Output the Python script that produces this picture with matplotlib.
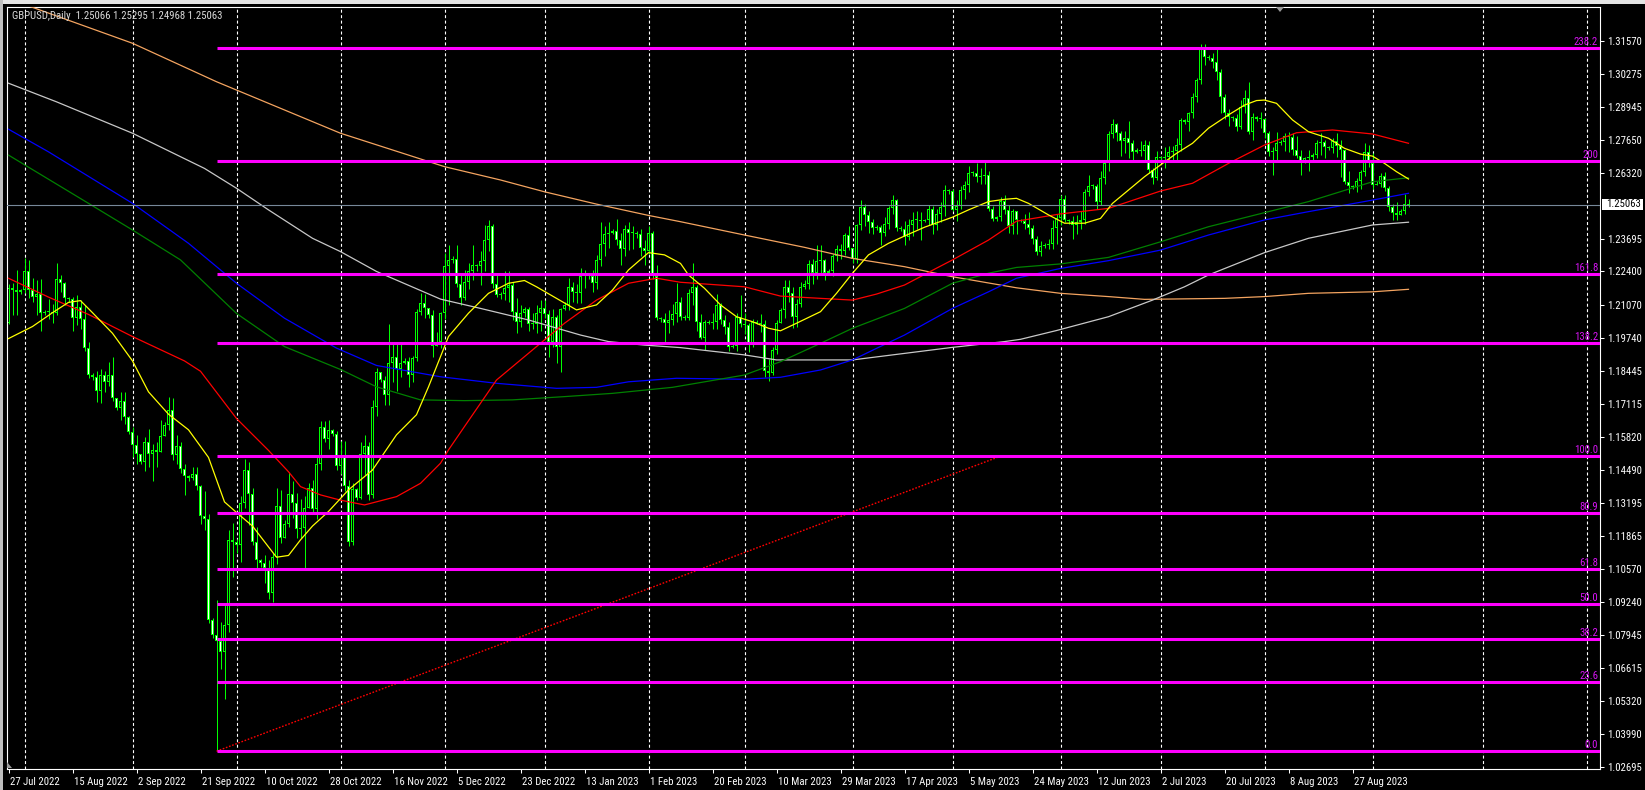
import os
import numpy as np
import matplotlib
matplotlib.use("Agg")
import matplotlib.pyplot as plt
from matplotlib import font_manager as fm
from matplotlib.patches import Rectangle, Polygon
from matplotlib.transforms import ScaledTranslation, blended_transform_factory

W, H = 1645, 790

# daily bars (broker with sunday bars), 27 Jul 2022 .. 12 Sep 2023
first_open = 1.2035
closes = [
    1.2175, 1.2165, 1.2160,
    1.2165, 1.2240, 1.2165, 1.2140, 1.2150, 1.2075,
    1.2078, 1.2080, 1.2075, 1.2210, 1.2195, 1.2135,
    1.2130, 1.2055, 1.2100, 1.2050, 1.1935, 1.1830,
    1.1820, 1.1765, 1.1830, 1.1800, 1.1830, 1.1735,
    1.1695, 1.1725, 1.1660, 1.1600, 1.1550, 1.1515,
    1.1480, 1.1560, 1.1515, 1.1530, 1.1520, 1.1585,
    1.1630, 1.1690, 1.1508, 1.1545, 1.1455, 1.1425,
    1.1420, 1.1435, 1.1385, 1.1265, 1.1255, 1.0855,
    1.0793, 1.0768, 1.0727, 1.0833, 1.1170, 1.1165,
    1.1150, 1.1320, 1.1450, 1.1355, 1.1165, 1.1092,
    1.1080, 1.1060, 1.0960, 1.1105, 1.1305, 1.1180,
    1.1235, 1.1355, 1.1320, 1.1215, 1.1220, 1.1300,
    1.1380, 1.1295, 1.1475, 1.1620, 1.1575, 1.1610,
    1.1595, 1.1465, 1.1505, 1.1385, 1.1165, 1.1375,
    1.1340, 1.1515, 1.1545, 1.1350, 1.1700, 1.1840,
    1.1810, 1.1750, 1.1875, 1.1900, 1.1850, 1.1875,
    1.1885, 1.1830, 1.1895, 1.2080, 1.2113, 1.2093,
    1.2065, 1.1945, 1.1960, 1.2075, 1.2260, 1.2285,
    1.2290, 1.2190, 1.2133, 1.2200, 1.2240, 1.2265,
    1.2260, 1.2280, 1.2365, 1.2420, 1.2190, 1.2145,
    1.2150, 1.2175, 1.2185, 1.2080, 1.2040, 1.2075,
    1.2090, 1.2030, 1.2030, 1.2075, 1.2095,
    1.2070, 1.1960, 1.2060, 1.1940, 1.2090,
    1.2105, 1.2180, 1.2160, 1.2155, 1.2220, 1.2230,
    1.2220, 1.2195, 1.2285, 1.2350, 1.2390, 1.2395,
    1.2400, 1.2365, 1.2330, 1.2410, 1.2395, 1.2395,
    1.2390, 1.2335, 1.2320, 1.2395, 1.2220, 1.2055,
    1.2050, 1.2035, 1.2045, 1.2070, 1.2120, 1.2060,
    1.2055, 1.2155, 1.2180, 1.2040, 1.1975, 1.2040,
    1.2035, 1.2040, 1.2105, 1.2045, 1.2020, 1.1940,
    1.1945, 1.2060, 1.2030, 1.2025, 1.1952, 1.2040,
    1.2035, 1.2030, 1.1845, 1.1835, 1.1928, 1.2034,
    1.2085, 1.2180, 1.2155, 1.2060, 1.2110, 1.2180,
    1.2190, 1.2270, 1.2235, 1.2280, 1.2285, 1.2235,
    1.2240, 1.2300, 1.2330, 1.2320, 1.2385, 1.2335,
    1.2290, 1.2425, 1.2498, 1.2465, 1.2438, 1.2412,
    1.2415, 1.2392, 1.2430, 1.2491, 1.2524, 1.2412,
    1.2410, 1.2378, 1.2425, 1.2445, 1.2445, 1.2440,
    1.2445, 1.2490, 1.2425, 1.2470, 1.2498, 1.2564,
    1.2560, 1.2485, 1.2500, 1.2565, 1.2585, 1.2630,
    1.2630, 1.2615, 1.2620, 1.2625, 1.2490, 1.2450,
    1.2455, 1.2520, 1.2485, 1.2420, 1.2480, 1.2445,
    1.2440, 1.2430, 1.2412, 1.2370, 1.2319, 1.2340,
    1.2345, 1.2350, 1.2412, 1.2451, 1.2527, 1.2445,
    1.2440, 1.2425, 1.2435, 1.2445, 1.2558, 1.2580,
    1.2580, 1.2518, 1.2610, 1.2670, 1.2787, 1.2827,
    1.2790, 1.2760, 1.2770, 1.2750, 1.2717,
    1.2725, 1.2720, 1.2745, 1.2644, 1.2611, 1.2697,
    1.2690, 1.2695, 1.2715, 1.2720, 1.2745, 1.2843,
    1.2835, 1.2869, 1.2936, 1.3000, 1.3128, 1.3095,
    1.3090, 1.3072, 1.3035, 1.2936, 1.2870, 1.2853,
    1.2850, 1.2813, 1.2893, 1.2929, 1.2796, 1.2853,
    1.2848, 1.2845, 1.2790, 1.2717, 1.2720, 1.2750,
    1.2755, 1.2780, 1.2775, 1.2722, 1.2700, 1.2670,
    1.2690, 1.2695, 1.2705, 1.2750, 1.2755, 1.2735,
    1.2730, 1.2760, 1.2740, 1.2725, 1.2595, 1.2580,
    1.2575, 1.2600, 1.2635, 1.2714, 1.2673, 1.2584,
    1.2590, 1.2621, 1.2571, 1.2498, 1.2474, 1.2465,
    1.2480, 1.25066, 1.25063,
]
highs = [
    1.2190, 1.2195, 1.2245,
    1.2172, 1.2293, 1.2285, 1.2215, 1.2205, 1.2210,
    1.2085, 1.2130, 1.2110, 1.2275, 1.2225, 1.2200,
    1.2140, 1.2140, 1.2145, 1.2125, 1.2105, 1.1960,
    1.1835, 1.1845, 1.1850, 1.1845, 1.1880, 1.1900,
    1.1735, 1.1760, 1.1760, 1.1665, 1.1620, 1.1590,
    1.1515, 1.1580, 1.1612, 1.1555, 1.1560, 1.1648,
    1.1640, 1.1740, 1.1738, 1.1590, 1.1560, 1.1475,
    1.1430, 1.1460, 1.1462, 1.1390, 1.1365, 1.1275,
    1.0860, 1.0933, 1.0845, 1.0915, 1.1210, 1.1238,
    1.1175, 1.1345, 1.1495, 1.1480, 1.1380, 1.1225,
    1.1095, 1.1110, 1.1090, 1.1120, 1.1380, 1.1370,
    1.1250, 1.1443, 1.1405, 1.1360, 1.1335, 1.1345,
    1.1400, 1.1410, 1.1500, 1.1645, 1.1645, 1.1650,
    1.1615, 1.1605, 1.1566, 1.1565, 1.1410, 1.1400,
    1.1380, 1.1560, 1.1590, 1.1560, 1.1730, 1.1855,
    1.1840, 1.1825, 1.2030, 1.1955, 1.1955, 1.1955,
    1.1895, 1.1900, 1.1905, 1.2090, 1.2153, 1.2150,
    1.2090, 1.2085, 1.2000, 1.2080, 1.2312, 1.2345,
    1.2300, 1.2345, 1.2225, 1.2245, 1.2275, 1.2345,
    1.2270, 1.2320, 1.2425, 1.2445, 1.2430, 1.2235,
    1.2160, 1.2240, 1.2240, 1.2200, 1.2133, 1.2105,
    1.2100, 1.2100, 1.2075, 1.2105, 1.2125,
    1.2125, 1.2085, 1.2090, 1.2065, 1.2095,
    1.2120, 1.2213, 1.2200, 1.2190, 1.2252, 1.2245,
    1.2235, 1.2245, 1.2305, 1.2438, 1.2420, 1.2435,
    1.2410, 1.2447, 1.2395, 1.2425, 1.2435, 1.2420,
    1.2400, 1.2410, 1.2365, 1.2420, 1.2400, 1.2265,
    1.2060, 1.2075, 1.2085, 1.2110, 1.2195, 1.2140,
    1.2065, 1.2170, 1.2272, 1.2185, 1.2070, 1.2045,
    1.2045, 1.2075, 1.2150, 1.2115, 1.2065, 1.2040,
    1.1955, 1.2075, 1.2145, 1.2075, 1.2035, 1.2050,
    1.2045, 1.2070, 1.2045, 1.1890, 1.1940, 1.2045,
    1.2095, 1.2205, 1.2206, 1.2180, 1.2130, 1.2200,
    1.2205, 1.2285, 1.2290, 1.2345, 1.2345, 1.2290,
    1.2250, 1.2310, 1.2345, 1.2350, 1.2395, 1.2420,
    1.2335, 1.2430, 1.2525, 1.2510, 1.2480, 1.2450,
    1.2425, 1.2425, 1.2455, 1.2500, 1.2546, 1.2530,
    1.2420, 1.2440, 1.2450, 1.2475, 1.2480, 1.2475,
    1.2450, 1.2505, 1.2500, 1.2490, 1.2515, 1.2585,
    1.2570, 1.2570, 1.2525, 1.2580, 1.2600, 1.2660,
    1.2640, 1.2670, 1.2650, 1.2680, 1.2640, 1.2500,
    1.2460, 1.2535, 1.2545, 1.2505, 1.2490, 1.2470,
    1.2450, 1.2470, 1.2475, 1.2425, 1.2380, 1.2360,
    1.2355, 1.2370, 1.2445, 1.2470, 1.2545, 1.2545,
    1.2450, 1.2460, 1.2465, 1.2480, 1.2570, 1.2625,
    1.2590, 1.2590, 1.2640, 1.2680, 1.2800, 1.2848,
    1.2830, 1.2800, 1.2800, 1.2840, 1.2765,
    1.2730, 1.2760, 1.2765, 1.2760, 1.2650, 1.2720,
    1.2700, 1.2735, 1.2740, 1.2740, 1.2770, 1.2850,
    1.2845, 1.2875, 1.2950, 1.3010, 1.3145, 1.3145,
    1.3100, 1.3110, 1.3128, 1.3045, 1.2945, 1.2885,
    1.2860, 1.2865, 1.2922, 1.2962, 1.2995, 1.2870,
    1.2860, 1.2875, 1.2850, 1.2800, 1.2735, 1.2795,
    1.2765, 1.2790, 1.2795, 1.2790, 1.2780, 1.2725,
    1.2695, 1.2725, 1.2710, 1.2765, 1.2790, 1.2765,
    1.2740, 1.2770, 1.2790, 1.2765, 1.2720, 1.2640,
    1.2585, 1.2610, 1.2645, 1.2750, 1.2745, 1.2710,
    1.2600, 1.2630, 1.2637, 1.2580, 1.2510, 1.2515,
    1.2490, 1.2550, 1.25295,
]
lows = [
    1.2030, 1.2065, 1.2065,
    1.2150, 1.2155, 1.2135, 1.2120, 1.2065, 1.2005,
    1.2068, 1.2050, 1.2035, 1.2065, 1.2160, 1.2105,
    1.2120, 1.2005, 1.2025, 1.2010, 1.1925, 1.1815,
    1.1810, 1.1720, 1.1715, 1.1760, 1.1785, 1.1725,
    1.1690, 1.1650, 1.1635, 1.1595, 1.1500, 1.1475,
    1.1475, 1.1445, 1.1460, 1.1405, 1.1460, 1.1520,
    1.1590, 1.1610, 1.1490, 1.1475, 1.1440, 1.1351,
    1.1405, 1.1410, 1.1370, 1.1235, 1.1212, 1.0840,
    1.0780, 1.0331, 1.0660, 1.0540, 1.0805, 1.1025,
    1.1120, 1.1085, 1.1300, 1.1230, 1.1150, 1.1060,
    1.1065, 1.1000, 1.0935, 1.0925, 1.1075, 1.1160,
    1.1200, 1.1225, 1.1260, 1.1178, 1.1180, 1.1060,
    1.1300, 1.1275, 1.1255, 1.1450, 1.1560, 1.1535,
    1.1585, 1.1450, 1.1435, 1.1365, 1.1148, 1.1150,
    1.1330, 1.1335, 1.1430, 1.1330, 1.1340, 1.1665,
    1.1800, 1.1710, 1.1710, 1.1800, 1.1765, 1.1820,
    1.1870, 1.1782, 1.1800, 1.1885, 1.2065, 1.2055,
    1.2055, 1.1900, 1.1945, 1.1935, 1.2050, 1.2105,
    1.2275, 1.2180, 1.2105, 1.2125, 1.2170, 1.2205,
    1.2240, 1.2185, 1.2240, 1.2320, 1.2175, 1.2140,
    1.2130, 1.2125, 1.2120, 1.2047, 1.1994, 1.2020,
    1.2060, 1.2005, 1.2010, 1.1995, 1.2005,
    1.2055, 1.1900, 1.1940, 1.1875, 1.1840,
    1.2085, 1.2085, 1.2120, 1.2115, 1.2115, 1.2175,
    1.2210, 1.2160, 1.2170, 1.2260, 1.2300, 1.2335,
    1.2390, 1.2345, 1.2265, 1.2300, 1.2325, 1.2330,
    1.2375, 1.2300, 1.2265, 1.2310, 1.2210, 1.2045,
    1.2040, 1.1960, 1.1995, 1.2025, 1.2040, 1.2045,
    1.2045, 1.2045, 1.2105, 1.2005, 1.1970, 1.1928,
    1.2030, 1.2010, 1.2010, 1.2030, 1.1990, 1.1925,
    1.1935, 1.1925, 1.2020, 1.1990, 1.1920, 1.1940,
    1.2030, 1.2000, 1.1822, 1.1805, 1.1830, 1.1910,
    1.2040, 1.2055, 1.2120, 1.2014, 1.2020, 1.2100,
    1.2170, 1.2170, 1.2190, 1.2210, 1.2230, 1.2205,
    1.2230, 1.2220, 1.2280, 1.2290, 1.2305, 1.2325,
    1.2275, 1.2275, 1.2405, 1.2420, 1.2395, 1.2390,
    1.2405, 1.2345, 1.2380, 1.2410, 1.2470, 1.2400,
    1.2400, 1.2345, 1.2365, 1.2380, 1.2410, 1.2365,
    1.2435, 1.2425, 1.2390, 1.2405, 1.2435, 1.2460,
    1.2550, 1.2480, 1.2440, 1.2490, 1.2530, 1.2555,
    1.2620, 1.2595, 1.2590, 1.2590, 1.2480, 1.2440,
    1.2440, 1.2440, 1.2470, 1.2395, 1.2390, 1.2390,
    1.2435, 1.2410, 1.2390, 1.2350, 1.2306, 1.2300,
    1.2335, 1.2330, 1.2330, 1.2350, 1.2425, 1.2435,
    1.2430, 1.2370, 1.2390, 1.2410, 1.2430, 1.2540,
    1.2570, 1.2490, 1.2505, 1.2590, 1.2640, 1.2770,
    1.2760, 1.2700, 1.2710, 1.2690, 1.2685,
    1.2710, 1.2700, 1.2680, 1.2630, 1.2590, 1.2605,
    1.2685, 1.2650, 1.2680, 1.2675, 1.2680, 1.2720,
    1.2825, 1.2800, 1.2850, 1.2915, 1.2985, 1.3060,
    1.3082, 1.3050, 1.3000, 1.2869, 1.2845, 1.2818,
    1.2840, 1.2800, 1.2805, 1.2870, 1.2785, 1.2763,
    1.2840, 1.2810, 1.2770, 1.2700, 1.2624, 1.2680,
    1.2745, 1.2720, 1.2715, 1.2705, 1.2690, 1.2624,
    1.2670, 1.2640, 1.2675, 1.2690, 1.2705, 1.2690,
    1.2725, 1.2710, 1.2695, 1.2615, 1.2590, 1.2551,
    1.2570, 1.2555, 1.2570, 1.2620, 1.2655, 1.2570,
    1.2585, 1.2575, 1.2560, 1.2480, 1.2445, 1.2445,
    1.2465, 1.2470, 1.24968,
]

# date labels on the time axis (bar index, text)
xtick_idx = [0, 16, 32, 48, 64, 80, 96, 112, 128, 144, 160,
             176, 192, 208, 224, 240, 256, 272, 288, 304, 320, 336]
xtick_labels = ['27 Jul 2022', '15 Aug 2022', '2 Sep 2022', '21 Sep 2022',
                '10 Oct 2022', '28 Oct 2022', '16 Nov 2022', '5 Dec 2022',
                '23 Dec 2022', '13 Jan 2023', '1 Feb 2023', '20 Feb 2023',
                '10 Mar 2023', '29 Mar 2023', '17 Apr 2023', '5 May 2023',
                '24 May 2023', '12 Jun 2023', '2 Jul 2023', '20 Jul 2023',
                '8 Aug 2023', '27 Aug 2023']
# first bar of each month -> vertical grid
grid_idx = [4, 31, 57, 83, 109, 134, 160, 184, 211, 236, 263, 288, 314, 341,
            368.5, 394.5]

ytick_vals = [1.31570, 1.30275, 1.28945, 1.27650, 1.26320, 1.23695, 1.22400,
              1.21070, 1.19740, 1.18445, 1.17115, 1.15820, 1.14490, 1.13195,
              1.11865, 1.10570, 1.09240, 1.07945, 1.06615, 1.05320, 1.03990,
              1.02695]

# moving averages (bar index, price)
ma_yellow = [(0, 1.1973), (6, 1.2021), (11, 1.2076), (15, 1.2117), (18, 1.2124),
             (21, 1.2076), (26, 1.1994), (31, 1.1884), (35, 1.1761), (40, 1.1672),
             (45, 1.1610), (50, 1.1500), (54, 1.1323), (57, 1.1281), (61, 1.1227),
             (65, 1.1144), (67, 1.1103), (70, 1.1110), (73, 1.1172), (76, 1.1227),
             (80, 1.1285), (85, 1.1371), (91, 1.1450), (97, 1.1590), (102, 1.1670),
             (105, 1.1781), (110, 1.1981), (115, 1.2074), (120, 1.2153),
             (125, 1.2193), (129, 1.2204), (132, 1.2179), (137, 1.2133),
             (142, 1.2087), (147, 1.2107), (151, 1.2166), (155, 1.2246),
             (160, 1.2315), (164, 1.2306), (168, 1.2272), (170, 1.2226),
             (174, 1.2173), (178, 1.2107), (182, 1.2060), (186, 1.2040),
             (190, 1.2014), (193, 1.2004), (197, 1.2034), (203, 1.2080),
             (207, 1.2153), (211, 1.2233), (215, 1.2306), (220, 1.2352),
             (224, 1.2381), (229, 1.2416), (236, 1.2456), (240, 1.2485),
             (245, 1.2518), (249, 1.2527), (252, 1.2531), (255, 1.2511),
             (260, 1.2465), (264, 1.2432), (269, 1.2432), (273, 1.2451),
             (276, 1.2511), (280, 1.2564), (284, 1.2617), (288, 1.2664),
             (292, 1.2710), (296, 1.2750), (300, 1.2810), (305, 1.2863),
             (309, 1.2902), (312, 1.2920), (314, 1.2922), (317, 1.2909),
             (321, 1.2843), (325, 1.2796), (330, 1.2770), (334, 1.2730),
             (338, 1.2707), (341, 1.2699), (344, 1.2670), (347, 1.2637),
             (350, 1.2608)]
ma_red = [(0, 1.2213), (10, 1.2138), (20, 1.2069), (31, 1.1981), (44, 1.1884),
          (48, 1.1843), (57, 1.1655), (65, 1.1528), (70, 1.1443), (73, 1.1384),
          (78, 1.1351), (83, 1.1330), (89, 1.1311), (97, 1.1344), (103, 1.1397),
          (108, 1.1477), (110, 1.1530), (114, 1.1623), (122, 1.1808),
          (132, 1.1941), (139, 1.2034), (147, 1.2126), (155, 1.2193),
          (162, 1.2213), (168, 1.2197), (184, 1.2179), (193, 1.2142),
          (203, 1.2133), (211, 1.2126), (217, 1.2150), (224, 1.2186),
          (232, 1.2253), (236, 1.2286), (245, 1.2365), (252, 1.2440),
          (263, 1.2469), (275, 1.2491), (288, 1.2560), (296, 1.2591),
          (305, 1.2670), (314, 1.2743), (322, 1.2792), (331, 1.2803),
          (341, 1.2787), (350, 1.2750)]
ma_green = [(0, 1.2703), (20, 1.2511), (31, 1.2405), (43, 1.2286), (57, 1.2073),
            (69, 1.1941), (83, 1.1850), (92, 1.1781), (103, 1.1729),
            (114, 1.1726), (126, 1.1729), (139, 1.1742), (151, 1.1755),
            (166, 1.1779), (184, 1.1828), (193, 1.1881), (203, 1.1954),
            (211, 1.2014), (224, 1.2093), (236, 1.2193), (245, 1.2233),
            (252, 1.2256), (263, 1.2270), (275, 1.2296), (288, 1.2358),
            (300, 1.2418), (314, 1.2474), (325, 1.2518), (341, 1.2597),
            (350, 1.2613)]
ma_blue = [(0, 1.2806), (10, 1.2716), (31, 1.2511), (45, 1.2352), (57, 1.2193),
           (69, 1.2054), (82, 1.1935), (92, 1.1866), (108, 1.1821),
           (122, 1.1795), (137, 1.1775), (147, 1.1779), (155, 1.1801),
           (167, 1.1815), (184, 1.1811), (193, 1.1819), (203, 1.1848),
           (211, 1.1888), (217, 1.1934), (224, 1.1987), (236, 1.2093),
           (245, 1.2159), (252, 1.2213), (263, 1.2252), (275, 1.2283),
           (288, 1.2325), (300, 1.2385), (314, 1.2445), (325, 1.2478),
           (341, 1.2524), (350, 1.2551)]
ma_silver = [(0, 1.2989), (12, 1.2915), (31, 1.2790), (49, 1.2650), (57, 1.2571),
             (65, 1.2485), (76, 1.2372), (83, 1.2319), (92, 1.2240),
             (108, 1.2130), (118, 1.2093), (130, 1.2047), (143, 1.1987),
             (150, 1.1961), (159, 1.1947), (168, 1.1937), (184, 1.1908),
             (192, 1.1888), (211, 1.1888), (224, 1.1914), (236, 1.1938),
             (249, 1.1961), (253, 1.1970), (262, 1.2005), (275, 1.2060),
             (286, 1.2126), (294, 1.2179), (300, 1.2226), (314, 1.2315),
             (325, 1.2372), (341, 1.2425), (350, 1.2436)]
ma_orange = [(0, 1.3322), (6, 1.3291), (31, 1.3148), (52, 1.2995), (83, 1.2790),
             (109, 1.2657), (123, 1.2604), (134, 1.2557), (147, 1.2508),
             (160, 1.2463), (168, 1.2438), (184, 1.2385), (199, 1.2336),
             (211, 1.2292), (224, 1.2259), (236, 1.2219), (252, 1.2175),
             (263, 1.2153), (275, 1.2140), (284, 1.2129), (304, 1.2133),
             (314, 1.2140), (325, 1.2153), (341, 1.2159), (350, 1.2169)]

# fibonacci tool: anchors and levels
fib_start, fib_end = 52, 248
fib_low, fib_high = 1.0331, 1.1505
fib_ratios = [0.0, 0.236, 0.382, 0.5, 0.618, 0.809, 1.0, 1.382, 1.618, 2.0, 2.382]
fib_labels = ['0.0', '23.6', '38.2', '50.0', '61.8', '80.9', '100.0',
              '138.2', '161.8', '200', '238.2']

bid = 1.25063
title = 'GBPUSD,Daily  1.25066 1.25295 1.24968 1.25063'

# ---------------------------------------------------------------
# look for a narrow sans face (MT4 uses a compact UI font)
def find_narrow():
    prefs = ['LiberationSansNarrow-Regular', 'RobotoCondensed-Regular',
             'Roboto-Condensed', 'DejaVuSansCondensed.ttf',
             'OpenSans_Condensed-Regular', 'OpenSansCondensed']
    files = [f.fname for f in fm.fontManager.ttflist]
    for key in prefs:
        for fn in files:
            if key in os.path.basename(fn):
                return fn
    return None

narrow = find_narrow()
if narrow:
    fp = fm.FontProperties(fname=narrow, size=8)
else:
    fp = fm.FontProperties(family=['Liberation Sans', 'DejaVu Sans'], size=8)

closes = np.array(closes)
opens = np.concatenate([[first_open], closes[:-1]])
highs = np.maximum(np.array(highs), np.maximum(opens, closes))
lows = np.minimum(np.array(lows), np.minimum(opens, closes))
idx = np.arange(len(closes))

fig = plt.figure(figsize=(W / 100, H / 100), dpi=100, facecolor='black')

# fit the font so the title spans the same width as the original
t = fig.text(12 / W, 1 - 16 / H, title, fontproperties=fp, color='#DCDCDC',
             va='center')
fig.canvas.draw()
tw = t.get_window_extent().width
fsize = min(8.0, 8.0 * 210.0 / tw)
fp.set_size(fsize)
t.set_fontproperties(fp)

ax = fig.add_axes([7 / W, 1 - 769 / H, 1593 / W, 762 / H], facecolor='black')
x0 = -0.375
xmax = x0 + 1593 / 4
ax.set_xlim(x0, xmax)
ax.set_ylim(1.02603, 1.32923)
px = (1.32923 - 1.02603) / 762.0   # one pixel in price units

for s in ax.spines.values():
    s.set_color('white')
    s.set_linewidth(0.8)

for g in grid_idx:
    ax.axvline(g, color='white', lw=0.8, ls=(0, (2.7, 2.2)), zorder=0.5)

# candles: lime wick, lime outlined body, black (up) / white (down) fill
lime = '#00FF00'
ax.vlines(idx, lows, highs, colors=lime, linewidth=0.72, zorder=1.5)
bull = closes >= opens
body_lo = np.minimum(opens, closes)
body_h = np.maximum(np.abs(closes - opens), px)
ax.bar(idx, body_h, bottom=body_lo, width=0.75, color=lime, linewidth=0,
       zorder=2)
inner = body_h > 2.5 * px
ax.bar(idx[inner], body_h[inner] - 2 * px, bottom=body_lo[inner] + px,
       width=0.25, color=np.where(bull[inner], 'black', 'white'),
       linewidth=0, zorder=2.1)

# moving averages
for pts, col in [(ma_orange, '#F4A460'), (ma_silver, '#C8C8C8'),
                 (ma_blue, '#0000FF'), (ma_green, '#008000'),
                 (ma_red, '#FF0000'), (ma_yellow, '#FFFF00')]:
    a = np.array(pts)
    ax.plot(a[:, 0], a[:, 1], color=col, lw=0.9, zorder=3)

ax.axhline(bid, color='#778899', lw=0.8, zorder=3.5)

# fibonacci
fib_levels = [fib_low + r * (fib_high - fib_low) for r in fib_ratios]
ax.plot([fib_start, fib_end], [fib_low, fib_high], color='#FF0000', lw=1.0,
        ls=(0, (1.2, 1.2)), zorder=4)
lab_tr = blended_transform_factory(ax.transAxes, ax.transData) + \
    ScaledTranslation(-2 / 100, 1 / 100, fig.dpi_scale_trans)
for lvl, lab in zip(fib_levels, fib_labels):
    ax.hlines(lvl, fib_start, xmax, color='#FF00FF', lw=2.2, zorder=4)
    ax.text(1, lvl, lab, transform=lab_tr, ha='right', va='bottom',
            color='#D815F5', fontproperties=fp, zorder=5)

# axes ticks
ax.yaxis.tick_right()
ax.set_yticks(ytick_vals)
ax.set_yticklabels([f'{v:.5f}' for v in ytick_vals])
ax.tick_params(axis='y', colors='white', length=3, width=0.75, pad=2)
ax.set_xticks(xtick_idx)
ax.set_xticklabels(xtick_labels)
ax.tick_params(axis='x', colors='white', length=3, width=0.75, pad=3)
off = ScaledTranslation(2 / 100, 0, fig.dpi_scale_trans)
for lab in ax.get_xticklabels():
    lab.set_ha('left')
    lab.set_fontproperties(fp)
    lab.set_transform(lab.get_transform() + off)
for lab in ax.get_yticklabels():
    lab.set_fontproperties(fp)

# bid price box
fig.add_artist(Rectangle((1602 / W, 1 - 209.5 / H), 41 / W, 10.5 / H,
                         transform=fig.transFigure, facecolor='white',
                         edgecolor='none'))
fig.text(1606.5 / W, 1 - 204.3 / H, f'{bid:.5f}', color='black',
         fontproperties=fp, va='center', ha='left')

# window chrome
fig.add_artist(Rectangle((0, 1 - 4 / H), 1, 4 / H, transform=fig.transFigure,
                         facecolor='#E4E4E4', edgecolor='none'))
fig.add_artist(Rectangle((0, 0), 3 / W, 1, transform=fig.transFigure,
                         facecolor='#BEBEBE', edgecolor='none'))
fig.add_artist(Polygon([(1276 / W, 1 - 7 / H), (1284 / W, 1 - 7 / H),
                        (1280 / W, 1 - 12 / H)], closed=True,
                       transform=fig.transFigure, facecolor='#9A9A9A',
                       edgecolor='none'))
fig.add_artist(Polygon([(7 / W, 1 - 762 / H), (7 / W, 1 - 768 / H),
                        (12 / W, 1 - 768 / H)], closed=True,
                       transform=fig.transFigure, facecolor='#9A9A9A',
                       edgecolor='none'))

fig.savefig('out.png', dpi=100, facecolor='black')
